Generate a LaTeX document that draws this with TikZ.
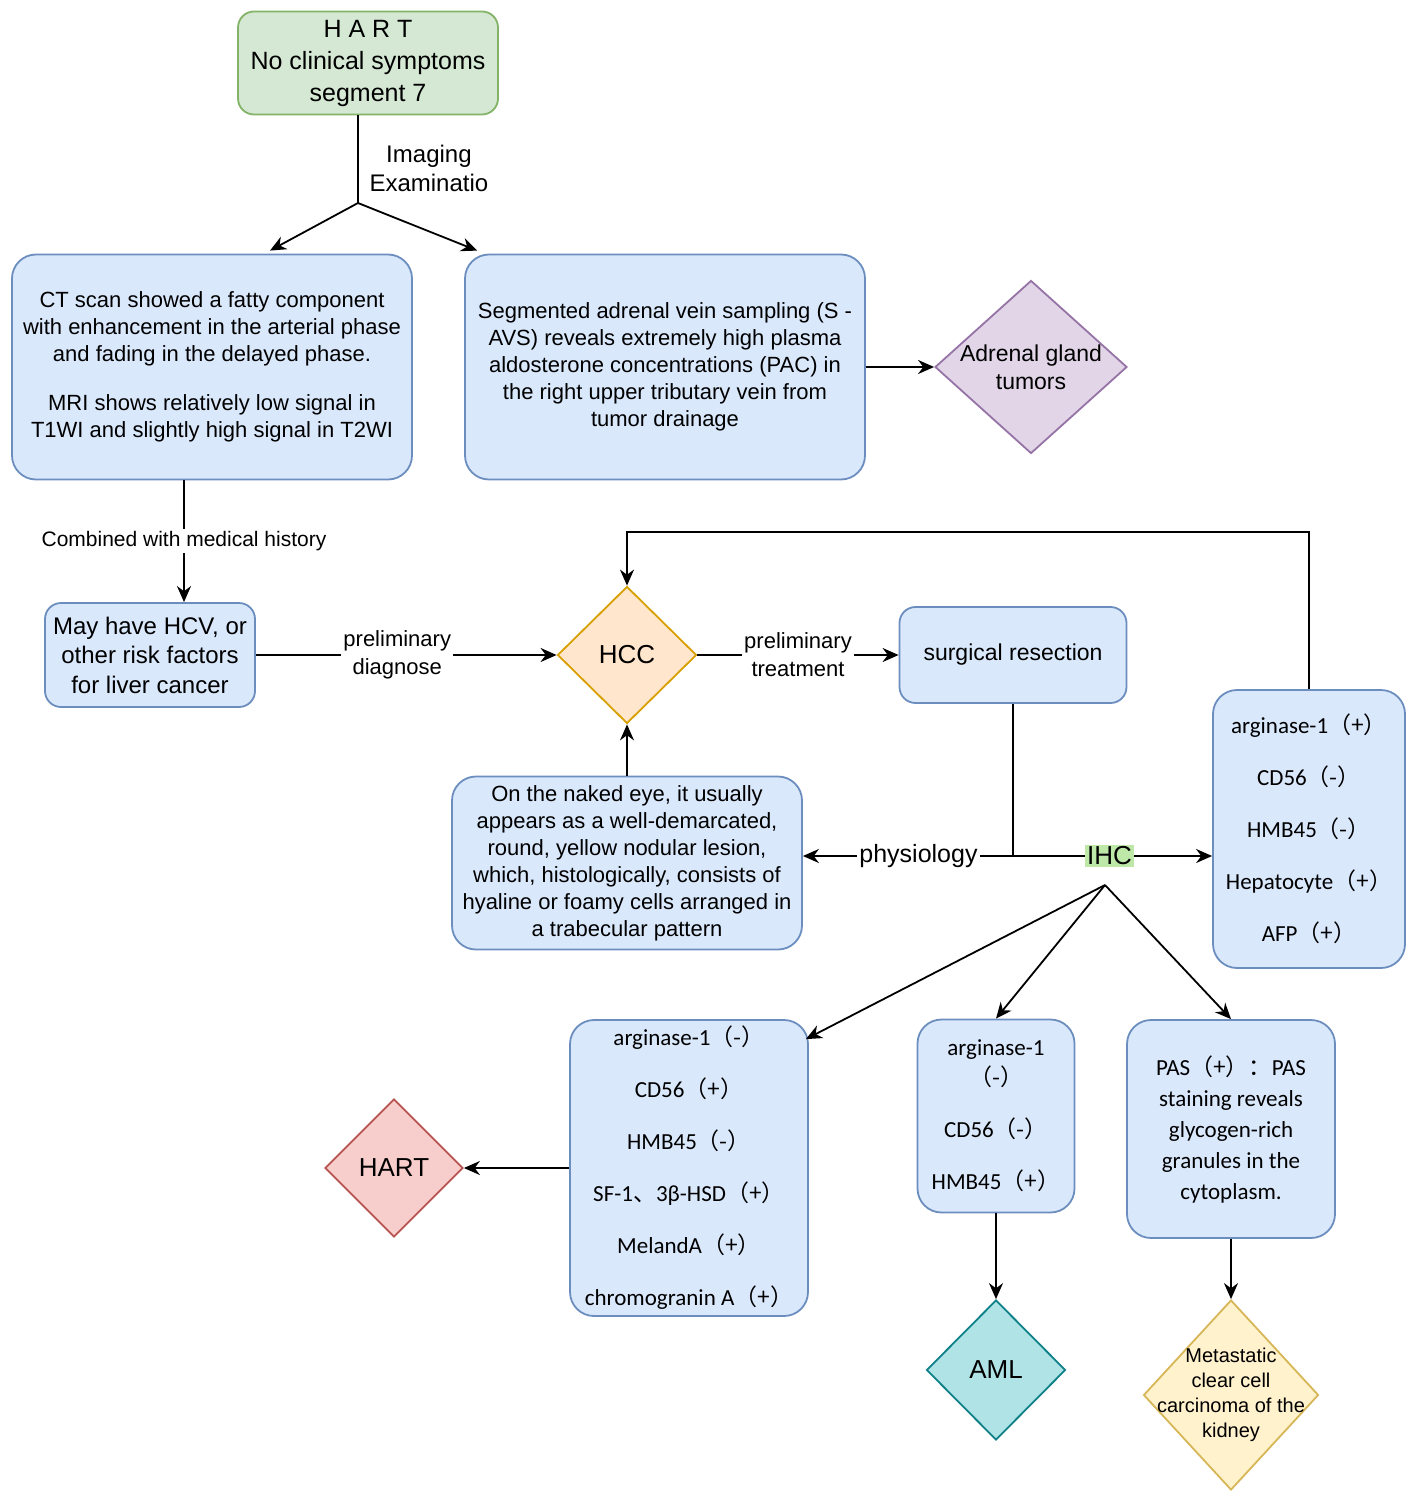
\documentclass[tikz,border=0pt]{standalone}
\usepackage{fontspec}
\setmainfont{Liberation Sans}
\newfontfamily\calib{Carlito}
\newfontfamily\cjk{Noto Sans CJK SC}
\usetikzlibrary{shapes.geometric,arrows.meta,calc}

\definecolor{bluefill}{HTML}{DAE8FC}
\definecolor{bluedraw}{HTML}{6C8EBF}
\definecolor{greenfill}{HTML}{D5E8D4}
\definecolor{greendraw}{HTML}{82B366}
\definecolor{purplefill}{HTML}{E1D5E7}
\definecolor{purpledraw}{HTML}{9673A6}
\definecolor{orangefill}{HTML}{FFE6CC}
\definecolor{orangedraw}{HTML}{D7A000}
\definecolor{redfill}{HTML}{F8CECC}
\definecolor{reddraw}{HTML}{B85450}
\definecolor{tealfill}{HTML}{B0E3E6}
\definecolor{tealdraw}{HTML}{0E8088}
\definecolor{yellowfill}{HTML}{FFF2CC}
\definecolor{yellowdraw}{HTML}{D6B656}
\definecolor{ihcgreen}{HTML}{BDE8A8}

% full-width brackets for the staining results
\newcommand{\stain}[1]{{\cjk （#1）}}

\tikzset{
  box/.style={draw=bluedraw, fill=bluefill, rounded corners=12pt, align=center,
    inner sep=2pt, font=\fontsize{11}{13.5}\selectfont},
  ihcbox/.style={box, font=\calib\fontsize{11.5}{26}\selectfont},
  dia/.style={diamond, draw, inner sep=0pt, font=\fontsize{13}{15}\selectfont},
  lbl/.style={align=center, fill=white, inner sep=1pt},
}

\begin{document}
\begin{tikzpicture}[x=0.5pt, y=-0.5pt, line width=0.9pt,
  >={Stealth[length=8pt,width=7pt]}]
\useasboundingbox (0,0) rectangle (1417,1503);

\node[box, draw=greendraw, fill=greenfill, rounded corners=8pt, minimum width=130pt,
  minimum height=51.5pt, font=\fontsize{12.5}{16}\selectfont] (top) at (368,63)
  {H A R T\\No clinical symptoms\\segment 7};
\node[box, minimum width=200pt, minimum height=112.5pt] (ct) at (212,367)
  {CT scan showed a fatty component\\with enhancement in the arterial phase\\and fading in the delayed phase.\\[11pt]MRI shows relatively low signal in\\T1WI and slightly high signal in T2WI};
\node[box, minimum width=200pt, minimum height=112.5pt] (avs) at (665,367)
  {Segmented adrenal vein sampling (S -\\AVS) reveals extremely high plasma\\aldosterone concentrations (PAC) in\\the right upper tributary vein from\\tumor drainage};
\node[dia, draw=purpledraw, fill=purplefill, minimum width=96pt, minimum height=86.5pt,
  label={[align=center, font=\fontsize{11.5}{14}\selectfont]center:{Adrenal gland\\tumors}}]
  (adr) at (1031,367) {};

\node[box, rounded corners=8pt, minimum width=105pt, minimum height=52pt,
  font=\fontsize{12}{14.75}\selectfont] (may) at (150,655)
  {May have HCV, or\\other risk factors\\for liver cancer};
\node[dia, draw=orangedraw, fill=orangefill, minimum width=69.5pt, minimum height=68.5pt]
  (hcc) at (627,655) {HCC};
\node[box, rounded corners=8pt, minimum width=113.5pt, minimum height=48pt,
  font=\fontsize{11.5}{14}\selectfont] (surg) at (1013,655) {surgical resection};
\node[box, minimum width=175pt, minimum height=86.5pt] (naked) at (627,863)
  {On the naked eye, it usually\\appears as a well-demarcated,\\round, yellow nodular lesion,\\which, histologically, consists of\\hyaline or foamy cells arranged in\\a trabecular pattern};
\node[ihcbox, minimum width=96pt, minimum height=139pt] (rbox) at (1309,829)
  {arginase-1\stain{+}\\CD56\stain{-}\\HMB45\stain{-}\\Hepatocyte\stain{+}\\AFP\stain{+}};

\node[ihcbox, minimum width=119pt, minimum height=148pt] (boxl) at (689,1168)
  {arginase-1\stain{-}\\CD56\stain{+}\\HMB45\stain{-}\\SF-1{\cjk 、}3β-HSD\stain{+}\\MelandA\stain{+}\\chromogranin A\stain{+}};
\node[ihcbox, minimum width=78.5pt, minimum height=96.5pt,
  font=\calib\fontsize{11.5}{15}\selectfont] (boxm) at (996,1116)
  {arginase-1\\\stain{-}\\[11pt]CD56\stain{-}\\[11pt]HMB45\stain{+}};
\node[ihcbox, minimum width=104pt, minimum height=109pt,
  font=\calib\fontsize{11.5}{15.5}\selectfont] (boxr) at (1231,1129)
  {PAS\stain{+}{\cjk ：}PAS\\staining reveals\\glycogen-rich\\granules in the\\cytoplasm.};
\node[dia, draw=reddraw, fill=redfill, minimum width=69pt, minimum height=69pt]
  (hart) at (394,1168) {HART};
\node[dia, draw=tealdraw, fill=tealfill, minimum width=69.5pt, minimum height=70pt]
  (aml) at (996,1370) {AML};
\node[dia, draw=yellowdraw, fill=yellowfill, minimum width=87.5pt, minimum height=95pt,
  label={[align=center, font=\fontsize{10}{12.5}\selectfont]center:{Metastatic\\clear cell\\carcinoma of the\\kidney}}]
  (meta) at (1231,1395) {};

\coordinate (j1) at (358,203);
\coordinate (c1) at (184,480);
\coordinate (j3) at (surg.south |- 0,856);
\coordinate (j2) at (1105,885);

\draw (j1 |- top.south) -- (j1) node[pos=0.6, right=2pt, align=center,
  font=\fontsize{12}{14.5}\selectfont] {Imaging\\Examinatio};
\draw [->] (j1) -- ($(ct.north)+(58,-3)$);
\draw [->] (j1) -- ($(avs.north west)+(13,-3)$);
\draw [->] (avs.east) -- (adr.west);
\draw [->] (c1) -- (c1 |- may.north) node[midway, lbl, font=\fontsize{10.5}{12}\selectfont]
  {Combined with medical history};
\draw [->] (may.east) -- (hcc.west) node[pos=0.47, lbl, font=\fontsize{11}{14}\selectfont]
  {preliminary\\diagnose};
\draw [->] (hcc.east) -- (surg.west) node[midway, lbl, font=\fontsize{11}{14}\selectfont]
  {preliminary\\treatment};
\draw [->] (naked.north) -- (hcc.south);
\draw (surg.south) -- (j3);
\draw [->] (j3) -- (j3 -| naked.east) node[pos=0.45, lbl, font=\fontsize{12.5}{14}\selectfont]
  {physiology};
\draw [->] (j3) -- (j3 -| rbox.west) node[pos=0.485, lbl, fill=ihcgreen,
  font=\fontsize{13}{14}\selectfont] {IHC};
\draw [->] (rbox.north) -- ++(0,-157) -| (hcc.north);
\draw [->] (j2) -- ($(boxl.north east)+(-3,20)$);
\draw [->] (j2) -- (boxm.north);
\draw [->] (j2) -- (boxr.north);
\draw [->] (boxl.west) -- (hart.east);
\draw [->] (boxm.south) -- (aml.north);
\draw [->] (boxr.south) -- (meta.north);
\end{tikzpicture}
\end{document}
